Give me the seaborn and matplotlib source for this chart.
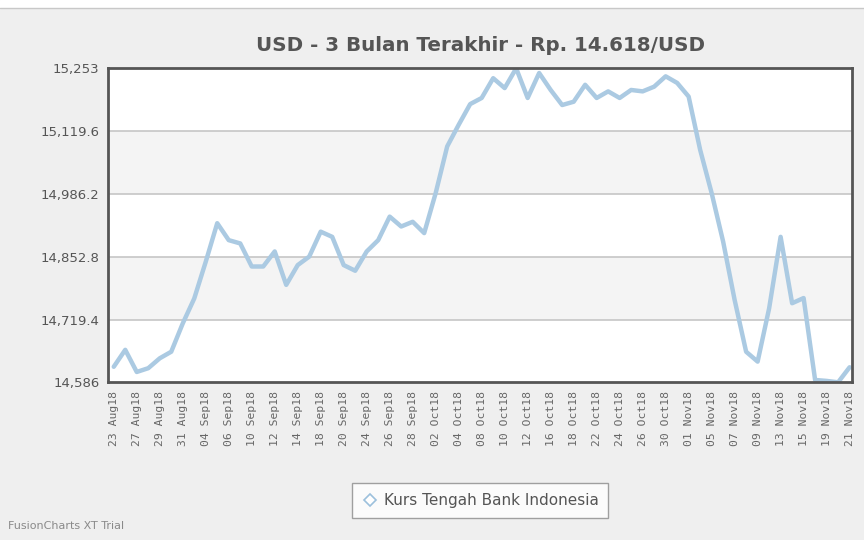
import matplotlib
matplotlib.use("Agg")
import matplotlib.pyplot as plt
from matplotlib.lines import Line2D
import seaborn as sns
import pandas as pd

dates = [
    "23 Aug18", "24 Aug18", "27 Aug18", "28 Aug18", "29 Aug18", "30 Aug18", "31 Aug18",
    "03 Sep18", "04 Sep18", "05 Sep18", "06 Sep18", "07 Sep18", "10 Sep18", "11 Sep18",
    "12 Sep18", "13 Sep18", "14 Sep18", "17 Sep18", "18 Sep18", "19 Sep18", "20 Sep18",
    "21 Sep18", "24 Sep18", "25 Sep18", "26 Sep18", "27 Sep18", "28 Sep18", "01 Oct18",
    "02 Oct18", "03 Oct18", "04 Oct18", "05 Oct18", "08 Oct18", "09 Oct18", "10 Oct18",
    "11 Oct18", "12 Oct18", "15 Oct18", "16 Oct18", "17 Oct18", "18 Oct18", "19 Oct18",
    "22 Oct18", "23 Oct18", "24 Oct18", "25 Oct18", "26 Oct18", "29 Oct18", "30 Oct18",
    "31 Oct18", "01 Nov18", "02 Nov18", "05 Nov18", "06 Nov18", "07 Nov18", "08 Nov18",
    "09 Nov18", "12 Nov18", "13 Nov18", "14 Nov18", "15 Nov18", "16 Nov18", "19 Nov18",
    "20 Nov18", "21 Nov18",
]
kurs = [
    14619, 14655, 14608, 14616, 14637, 14651, 14711, 14764, 14842, 14924, 14888,
    14881, 14832, 14832, 14864, 14793, 14835, 14853, 14906, 14895, 14835, 14823,
    14864, 14888, 14938, 14917, 14927, 14903, 14988, 15087, 15133, 15177, 15190,
    15232, 15211, 15253, 15190, 15243, 15207, 15175, 15182, 15218, 15190, 15204,
    15190, 15207, 15204, 15214, 15236, 15222, 15193, 15080, 14988, 14885, 14761,
    14651, 14630, 14743, 14895, 14754, 14765, 14591, 14589, 14586, 14618,
]
y_ticks = [14586, 14719.4, 14852.8, 14986.2, 15119.6, 15253]
y_tick_labels = ["14,586", "14,719.4", "14,852.8", "14,986.2", "15,119.6", "15,253"]
series_name = "Kurs Tengah Bank Indonesia"
title = "USD - 3 Bulan Terakhir - Rp. 14.618/USD"

df = pd.DataFrame({"pos": range(len(dates)), "tanggal": dates, "kurs": kurs})

sns.set_style("white")
plt.rcParams["font.family"] = ["DejaVu Sans"]

bg = "#efefef"
fig = plt.figure(figsize=(8.64, 5.4), dpi=100, facecolor=bg)
ax = fig.add_axes([0.125, 0.292, 0.861, 0.5815])
ax.set_facecolor("white")

# alternating bands
for i in range(len(y_ticks) - 1):
    if i % 2 == 1:
        ax.axhspan(y_ticks[i], y_ticks[i + 1], color="#f4f4f4", zorder=0, lw=0)
for yv in y_ticks[1:-1]:
    ax.axhline(yv, color="#c6c6c6", lw=1.2, zorder=1)

line_color = "#abcae2"
sns.lineplot(data=df, x="pos", y="kurs", ax=ax, color=line_color, lw=3.2,
             legend=False, zorder=3)

ax.set_xlim(-0.5, len(dates) - 0.8)
ax.set_ylim(y_ticks[0], y_ticks[-1])
ax.set_yticks(y_ticks)
ax.set_yticklabels(y_tick_labels, fontsize=9.5, color="#555555")
ax.set_xticks(df["pos"][::2])
ax.set_xticklabels(df["tanggal"][::2], rotation=90, fontsize=8.2,
                   color="#666666", family="DejaVu Sans Mono")
ax.tick_params(axis="both", length=0, pad=6)
ax.set_xlabel("")
ax.set_ylabel("")
for s in ax.spines.values():
    s.set_visible(True)
    s.set_color("#555555")
    s.set_linewidth(2)
    s.set_zorder(5)

fig.text(0.556, 0.915, title, ha="center", va="center", fontsize=14.3,
         fontweight="bold", color="#555555")

handle = Line2D([], [], marker="D", markersize=6.5, markerfacecolor="white",
                markeredgecolor="#9cc0dc", markeredgewidth=1.2, linestyle="none")
leg = fig.legend([handle], [series_name], loc="center",
                 bbox_to_anchor=(0.556, 0.073), frameon=True, fancybox=False,
                 shadow=False, fontsize=11, handletextpad=0.4,
                 borderpad=0.65, borderaxespad=0, handlelength=1.0)
leg.get_frame().set_edgecolor("#8a8a8a")
leg.get_frame().set_facecolor("white")
leg.get_frame().set_linewidth(1.0)
for t in leg.get_texts():
    t.set_color("#555555")

fig.text(0.009, 0.026, "FusionCharts XT Trial", fontsize=8, color="#8a8a8a",
         ha="left", va="center")

# top white strip with thin line
fig.add_artist(plt.Rectangle((0, 0.987), 1, 0.013, transform=fig.transFigure,
                             color="white", zorder=0))
fig.add_artist(Line2D([0, 1], [0.986, 0.986], transform=fig.transFigure,
                      color="#c8c8c8", lw=1))

fig.savefig("out.png", dpi=100, facecolor=bg)
